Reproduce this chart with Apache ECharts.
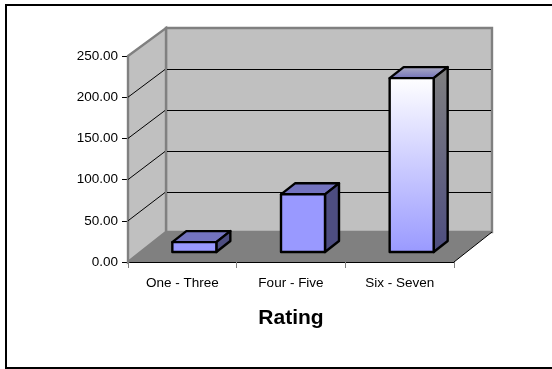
<!DOCTYPE html>
<html>
<head>
<meta charset="utf-8">
<style>
html,body{margin:0;padding:0;background:#fff;overflow:hidden}
#chart{width:552px;height:369px}
</style>
<script src="https://cdn.jsdelivr.net/npm/echarts@6/dist/echarts.min.js"></script>
</head>
<body>
<div id="chart"></div>
<script>
// Rating counts shown as 3D-style columns
const categories = ['One - Three', 'Four - Five', 'Six - Seven'];
const ratingValues = [12, 70, 211];
const valueTicks = [0, 50, 100, 150, 200, 250];

// Depth of the box the columns stand in, and of each column
const WALL_DX = 38, WALL_DY = -30;
const BACK_SCALE = 204 / 206;
const BAR_DX = 14, BAR_DY = -11;
const BAR_SHIFT_X = 12, BAR_SHIFT_Y = -10;
const BAR_WIDTH = 44;

const chart = echarts.init(document.getElementById('chart'));

function poly(points, style, z2) {
  return { type: 'polygon', shape: { points }, style, z2: z2 || 0, silent: true };
}
function seg(x1, y1, x2, y2, stroke, lineWidth, z2) {
  return { type: 'line', shape: { x1, y1, x2, y2 }, style: { stroke, lineWidth, fill: null }, z2: z2 || 0, silent: true };
}

// Back wall, side wall, floor and their gridlines
function renderBox(params, api) {
  const cs = params.coordSys;
  const left = cs.x, right = cs.x + cs.width;
  const bottom = api.coord([0, 0])[1], top = api.coord([0, 250])[1];
  const dx = WALL_DX, backBottom = bottom + WALL_DY;
  const backY = y => backBottom + (y - bottom) * BACK_SCALE;
  const backTop = backY(top);
  const wallStyle = { fill: '#C0C0C0', stroke: '#808080', lineWidth: 2.4 };
  const kids = [];
  kids.push(poly([[left + dx, backTop], [right + dx, backTop], [right + dx, backBottom], [left + dx, backBottom]], wallStyle));
  kids.push(poly([[left, top], [left + dx, backTop], [left + dx, backBottom], [left, bottom]], wallStyle));
  kids.push(poly([[left, bottom], [left + dx, backBottom], [right + dx, backBottom], [right, bottom]], { fill: '#808080' }, 1));
  valueTicks.forEach(v => {
    if (v === 0 || v === 250) return;
    const y = api.coord([0, v])[1];
    const by = Math.floor(backY(y)) + 1.5;
    kids.push(seg(left, y, left + dx - 1, by, '#000', 1, 2));
    kids.push(seg(left + dx + 1, by, right + dx - 1, by, '#000', 1, 2));
  });
  kids.push(seg(right, bottom, right + dx, backBottom, '#000', 1, 3));
  return { type: 'group', children: kids };
}

// One column: front face, top and right side
function renderColumn(params, api) {
  const idx = api.value(0), val = api.value(1);
  const cx = api.coord([idx, 0])[0] + BAR_SHIFT_X;
  const base = api.coord([idx, 0])[1] + BAR_SHIFT_Y;
  const head = api.coord([idx, val])[1] + BAR_SHIFT_Y;
  const l = cx - BAR_WIDTH / 2, r = cx + BAR_WIDTH / 2;
  const edge = { stroke: '#000', lineWidth: 2.4, lineJoin: 'round' };
  const tall = val > 150;
  const vert = (a, b) => new echarts.graphic.LinearGradient(0, 0, 0, 1, [{ offset: 0, color: a }, { offset: 1, color: b }]);
  const frontFill = tall ? vert('#FFFFFF', '#9999FF') : '#9999FF';
  const topFill = tall ? vert('#B0B0C4', '#6E6EB8') : '#7373BF';
  const sideFill = tall ? vert('#808080', '#4D4D80') : '#4D4D80';
  return {
    type: 'group',
    children: [
      poly([[l, head], [l + BAR_DX, head + BAR_DY], [r + BAR_DX, head + BAR_DY], [r, head]], Object.assign({ fill: topFill }, edge), 10),
      poly([[r, head], [r + BAR_DX, head + BAR_DY], [r + BAR_DX, base + BAR_DY], [r, base]], Object.assign({ fill: sideFill }, edge), 10),
      poly([[l, head], [r, head], [r, base], [l, base]], Object.assign({ fill: frontFill }, edge), 11)
    ]
  };
}

chart.setOption({
  animation: false,
  backgroundColor: '#fff',
  graphic: [{
    // Frame runs off the right-hand side of the canvas
    type: 'rect',
    shape: { x: 6, y: 5, width: 570, height: 363 },
    style: { fill: 'none', stroke: '#000', lineWidth: 2 },
    silent: true
  }],
  grid: { left: 128, top: 56, width: 326, height: 206, containLabel: false },
  xAxis: {
    type: 'category',
    data: categories,
    name: 'Rating',
    nameLocation: 'middle',
    nameGap: 46,
    nameTextStyle: { fontFamily: 'Liberation Sans', fontSize: 21, fontWeight: 'bold', color: '#000' },
    axisLine: { onZero: false, lineStyle: { color: '#000', width: 2 } },
    axisTick: { show: true, alignWithLabel: false, length: 6, lineStyle: { color: '#808080', width: 1 } },
    axisLabel: { fontFamily: 'Liberation Sans', fontSize: 13.5, color: '#000', margin: 14 },
    splitLine: { show: false }
  },
  yAxis: {
    type: 'value',
    min: 0,
    max: 250,
    interval: 50,
    axisLine: { show: true, lineStyle: { color: '#404040', width: 2 } },
    axisTick: { show: true, length: 6, lineStyle: { color: '#000', width: 1 } },
    axisLabel: { fontFamily: 'Liberation Sans', fontSize: 13.5, color: '#000', margin: 10, formatter: v => v.toFixed(2) },
    splitLine: { show: false }
  },
  series: [
    { type: 'custom', z: 1, clip: false, silent: true, renderItem: renderBox, data: [[0, 0]] },
    {
      type: 'custom', z: 2, clip: false, silent: true,
      renderItem: renderColumn,
      encode: { x: 0, y: 1 },
      data: ratingValues.map((v, i) => [i, v])
    }
  ]
});
</script>
</body>
</html>
